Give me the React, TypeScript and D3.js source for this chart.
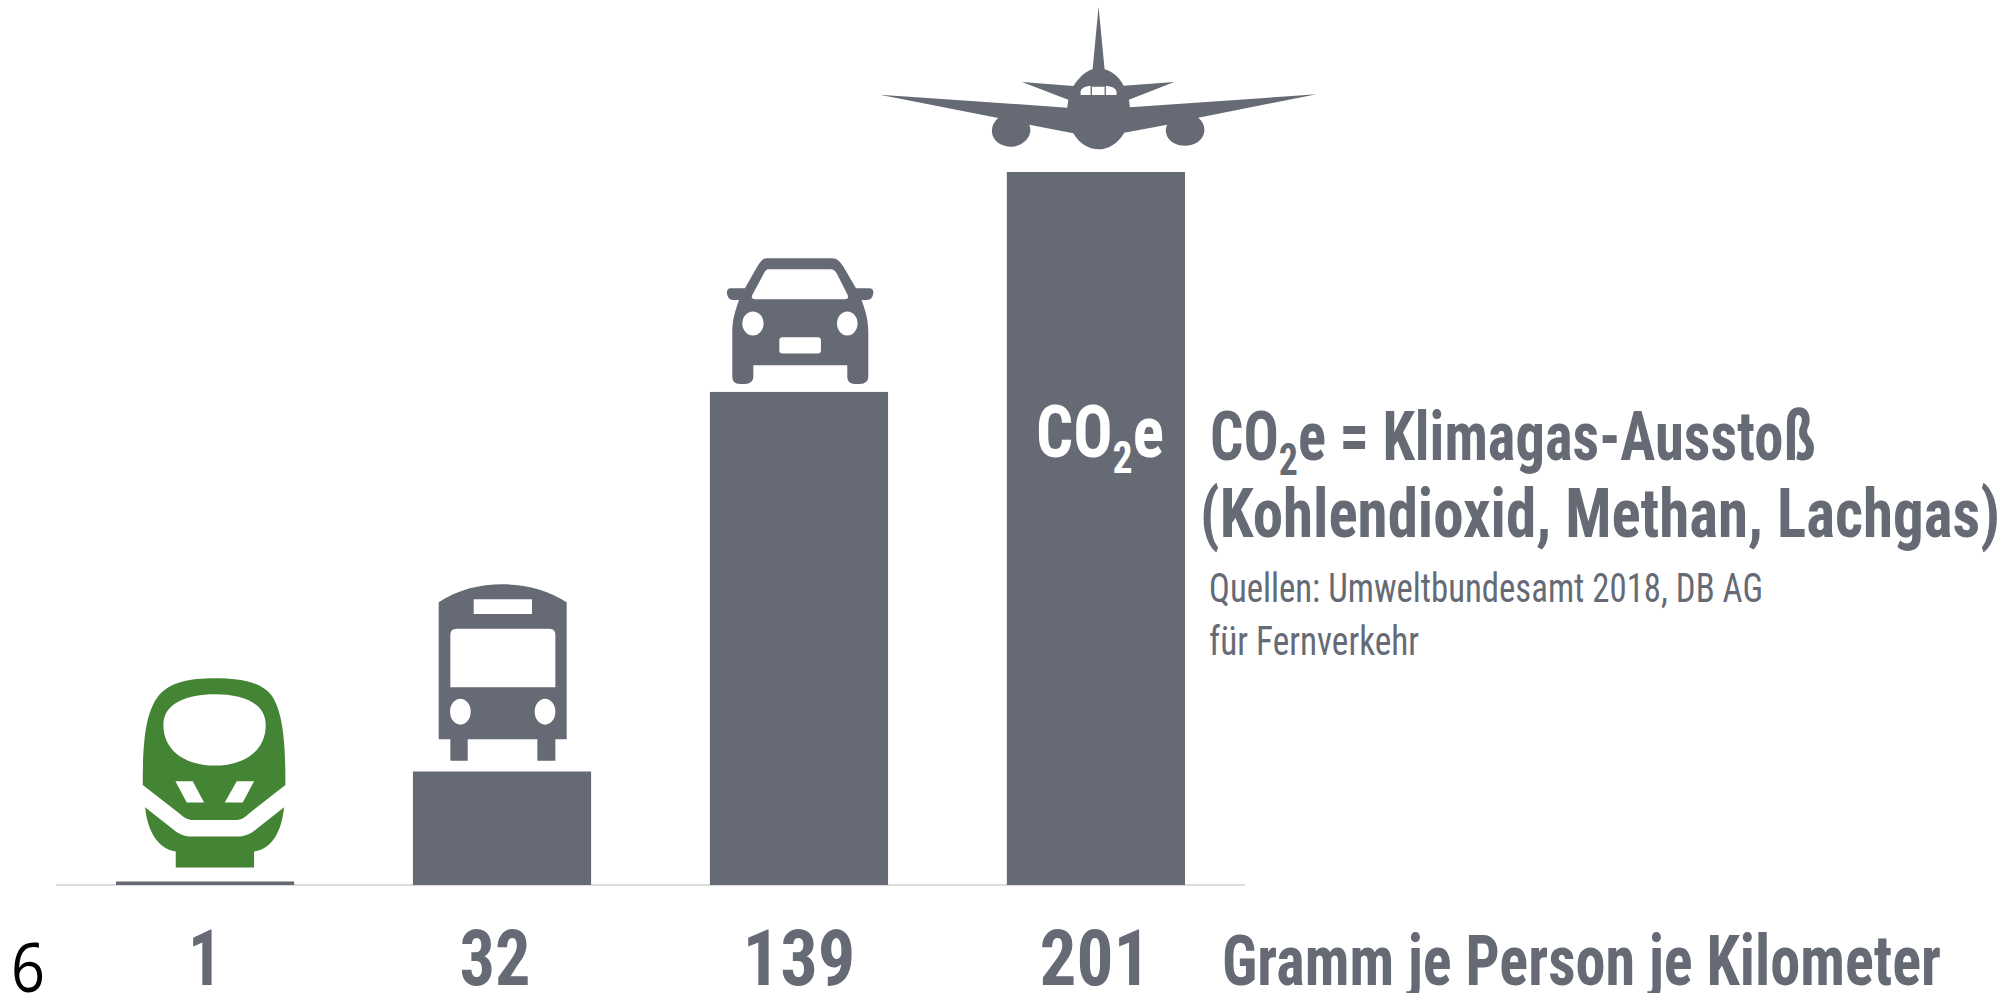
import * as d3 from "d3";
import React from "react";

const categories = ["Bahn", "Bus", "Auto", "Flugzeug"];
const values = [1, 32, 139, 201];
const unitLabel = "Gramm je Person je Kilometer";
const noteLines = ["Quellen: Umweltbundesamt 2018, DB AG", "für Fernverkehr"];
const pageLabel = "6";

const GREY = "#666a75";
const GREEN = "#438535";
const FONT = "'Roboto Condensed', 'Liberation Sans Narrow', 'DejaVu Sans Condensed', sans-serif";

const ellipse = (cx: number, cy: number, rx: number, ry: number) =>
  `M${cx - rx} ${cy}a${rx} ${ry} 0 1 0 ${2 * rx} 0a${rx} ${ry} 0 1 0 ${-2 * rx} 0Z`;

// icons are traced at 3x, dx/dy is the offset from bar centre and bar top
const icons = [
  {
    fill: GREEN,
    dx: -105,
    dy: -241.5,
    d:
      "M128 435C128 330 132 230 170 175C205 125 270 115 345 115C420 115 490 125 520 175C552 230 556 330 556 435L445 522C435 532 425 540 405 540L280 540C262 540 250 532 240 522Z" +
      "M190 255C190 190 260 163 345 163C430 163 497 190 497 255C497 335 430 377 345 377C260 377 190 335 190 255Z" +
      "M226 424L278 424L312 488L260 488Z M410 424L462 424L428 488L374 488Z" +
      "M135 502L215 565C232 580 250 590 275 590L410 590C435 590 455 580 472 565L552 502C545 570 520 625 462 635L462 683L227 683L227 635C170 625 142 570 135 502Z",
  },
  {
    fill: GREY,
    dx: -82,
    dy: -201.5,
    d:
      "M56 97C110 60 180 43 247 43C315 43 385 60 440 97L440 508L406 508L406 572L352 572L352 508L143 508L143 572L91 572L91 508L56 508Z" +
      "M161 88L336 88L336 132L161 132Z" +
      "M91 195Q91 176 110 176L388 176Q406 176 406 195L406 352L91 352Z" +
      ellipse(121, 425, 31, 39) +
      ellipse(375, 425, 31, 39),
  },
  {
    fill: GREY,
    dx: -99,
    dy: -152,
    d:
      "M200 55L395 55C412 55 420 65 430 80L468 145L508 145C520 145 522 155 519 165C516 175 510 180 500 180L485 180C497 215 505 240 505 275L505 410C505 425 495 432 480 432L465 432C450 432 442 425 442 410L442 376L160 376L160 410C160 425 150 432 135 432L120 432C105 432 97 425 97 410L97 275C97 240 105 215 117 180L100 180C90 180 85 175 82 165C79 155 82 145 92 145L135 145L172 80C182 65 188 55 200 55Z" +
      "M205 88L392 88C400 88 405 92 410 100L443 165C447 172 443 178 435 178L165 178C157 178 153 172 157 165L192 100C196 92 200 88 205 88Z" +
      ellipse(159, 251, 32, 36) +
      ellipse(442, 251, 31, 36) +
      "M248 292L353 292Q363 292 363 302L363 331Q363 341 353 341L248 341Q238 341 238 331L238 302Q238 292 248 292Z",
  },
  {
    fill: GREY,
    dx: -226,
    dy: -172,
    d:
      "M686 20L704 208C730 215 750 235 761 257L913 246L777 299L780 322L1340 283L985 353C1000 365 1005 380 1003 395C1000 420 975 437 945 437C915 437 890 420 888 395C887 385 889 380 892 374L763 398C745 430 715 448 686 448C655 448 628 430 610 400L478 374C482 382 482 392 480 400C475 422 450 440 424 440C392 440 367 420 366 395C366 378 372 365 385 354L30 284L592 323L595 299L456 246L611 258C625 235 645 215 668 208Z" +
      "M632 285L632 275C634 265 645 258 662 258L662 285Z M666 260L704 260L704 285L666 285Z M708 258C725 258 738 265 740 275L740 285L708 285Z",
  },
];

export default function App() {
  const x = d3.scaleBand<string>().domain(categories).range([116, 1185]).paddingInner(0.4);
  const y = d3.scaleLinear().domain([0, 201]).range([885, 172]);

  // value labels are not quite centred under the bars in the original
  const labelWidth = [34, 71, 113, 111];
  const labelNudge = [0, -7, 0, -1];

  return (
    <svg
      width={2013}
      height={993}
      style={{ position: "absolute", left: 0, top: 0, background: "#fff" }}
      fontFamily={FONT}
    >
      <line x1={56} x2={1245} y1={y(0)} y2={y(0)} stroke="#dcdcdc" strokeWidth={2} />

      {categories.map((c, i) => (
        <rect
          key={c}
          x={x(c)}
          y={y(values[i])}
          width={x.bandwidth()}
          height={y(0) - y(values[i])}
          fill={GREY}
        />
      ))}

      {categories.map((c, i) => {
        const cx = x(c)! + x.bandwidth() / 2;
        return (
          <path
            key={c}
            d={icons[i].d}
            fill={icons[i].fill}
            fillRule="evenodd"
            transform={`translate(${cx + icons[i].dx},${y(values[i]) + icons[i].dy}) scale(${1 / 3})`}
          />
        );
      })}

      {categories.map((c, i) => (
        <text
          key={c}
          x={x(c)! + x.bandwidth() / 2 + labelNudge[i] - labelWidth[i] / 2}
          y={985}
          fontSize={78}
          fontWeight={700}
          fill={GREY}
          textLength={labelWidth[i]}
          lengthAdjust="spacingAndGlyphs"
        >
          {values[i]}
        </text>
      ))}

      <text x={1222} y={985} fontSize={70} fontWeight={700} fill={GREY} textLength={719} lengthAdjust="spacingAndGlyphs">
        {unitLabel}
      </text>

      <text x={1036} y={457} fontSize={72} fontWeight={700} fill="#fff" textLength={128} lengthAdjust="spacingAndGlyphs">
        CO<tspan fontSize={44} dy={16}>2</tspan><tspan dy={-16}>e</tspan>
      </text>

      <text x={1210} y={460} fontSize={68} fontWeight={700} fill={GREY} textLength={606} lengthAdjust="spacingAndGlyphs">
        CO<tspan fontSize={44} dy={15}>2</tspan><tspan dy={-15}>e = Klimagas-Ausstoß</tspan>
      </text>
      <text x={1200} y={537} fontSize={68} fontWeight={700} fill={GREY} textLength={800} lengthAdjust="spacingAndGlyphs">
        (Kohlendioxid, Methan, Lachgas)
      </text>

      {noteLines.map((line, i) => (
        <text
          key={line}
          x={1209}
          y={602 + i * 53}
          fontSize={40}
          fill={GREY}
          textLength={i === 0 ? 554 : 210}
          lengthAdjust="spacingAndGlyphs"
        >
          {line}
        </text>
      ))}

      <text x={11} y={992} fontSize={68} fill="#000" fontFamily="'Open Sans', sans-serif" textLength={34} lengthAdjust="spacingAndGlyphs">
        {pageLabel}
      </text>
    </svg>
  );
}
